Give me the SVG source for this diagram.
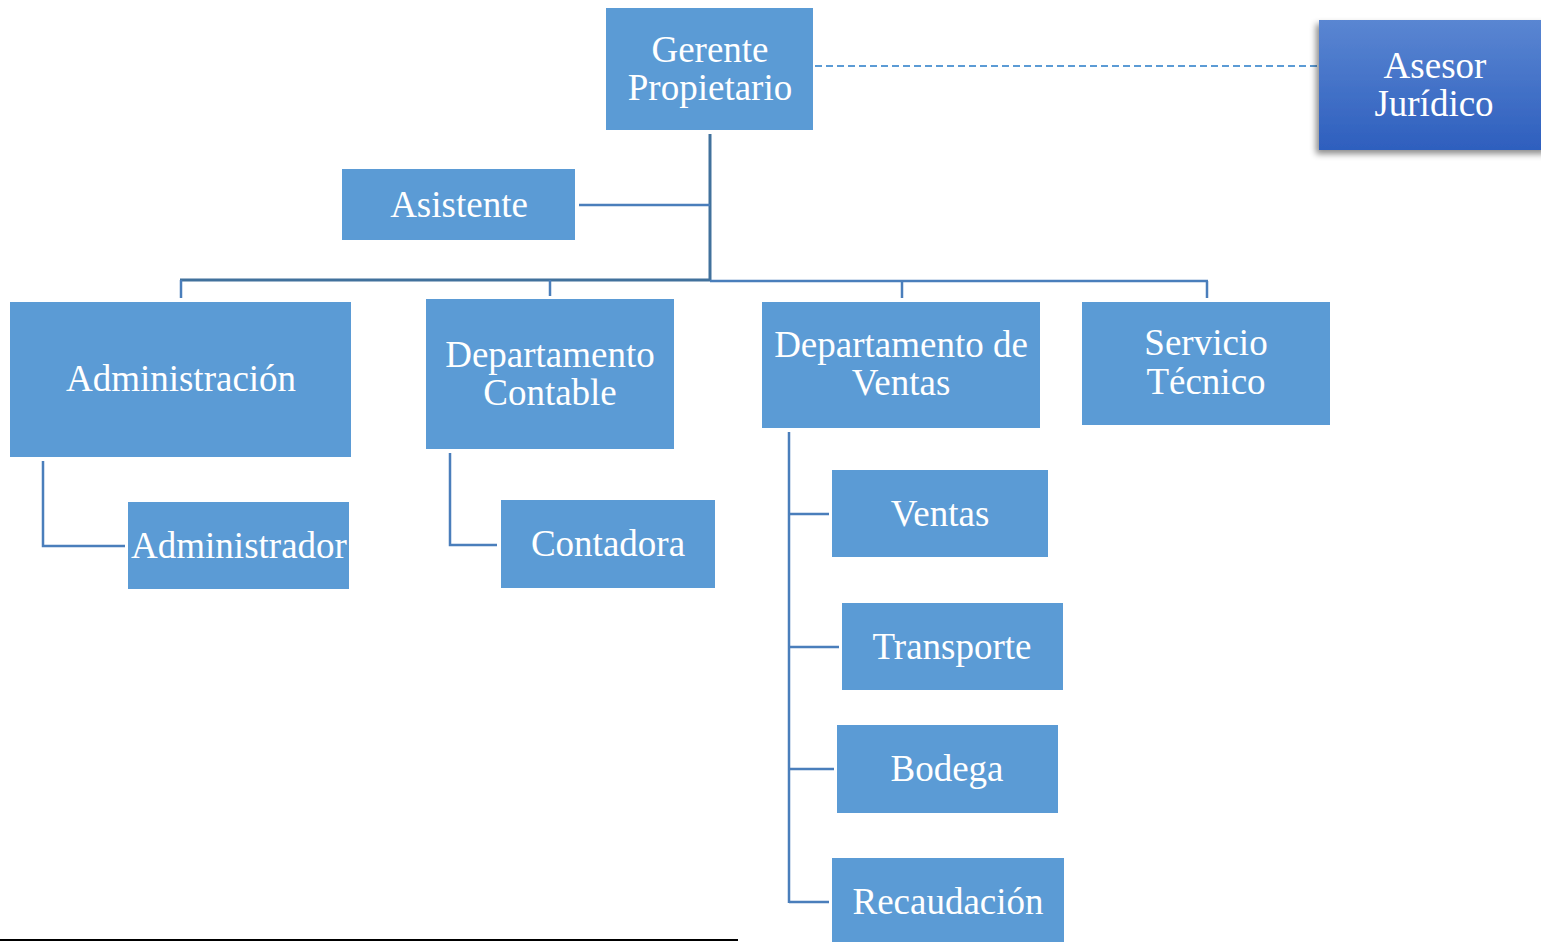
<svg xmlns="http://www.w3.org/2000/svg" width="1541" height="942" viewBox="0 0 1541 942">
  <style>
    .box { fill: #5B9BD5; }
    .lbl { font-family: "Liberation Serif", "Times New Roman", serif; font-size: 37px; fill: #FFFFFF; text-anchor: middle; }
    .trunk { stroke: #41719C; stroke-width: 3; fill: none; }
    .link { stroke: #4A7EBB; stroke-width: 2.5; fill: none; }
    .dash { stroke: #5B9BD5; stroke-width: 2; stroke-dasharray: 7 4; fill: none; }
  </style>
  <defs>
    <linearGradient id="asesorFill" x1="0" y1="0" x2="0" y2="1">
      <stop offset="0" stop-color="#5A86D2"/>
      <stop offset="1" stop-color="#2E5FBE"/>
    </linearGradient>
    <filter id="softShadow" x="-20%" y="-20%" width="140%" height="150%">
      <feDropShadow dx="-3" dy="4" stdDeviation="3" flood-color="#000" flood-opacity="0.45"/>
    </filter>
  </defs>

  <g id="connectors">
    <!-- advisory (staff) link -->
    <line class="dash" x1="815" y1="66" x2="1318" y2="66"/>
    <!-- main trunk from the manager -->
    <line class="trunk" x1="710" y1="134" x2="710" y2="281"/>
    <line class="link" x1="579" y1="205" x2="710" y2="205"/>
    <!-- department bus -->
    <line class="trunk" x1="180" y1="280" x2="710" y2="280"/>
    <line class="link" x1="710" y1="281" x2="1208" y2="281"/>
    <line class="link" x1="181" y1="280" x2="181" y2="298"/>
    <line class="link" x1="550" y1="280" x2="550" y2="296"/>
    <line class="link" x1="902" y1="281" x2="902" y2="298"/>
    <line class="link" x1="1207" y1="281" x2="1207" y2="298"/>
    <!-- Administración -> Administrador -->
    <polyline class="link" points="43,461 43,546 125,546"/>
    <!-- Departamento Contable -> Contadora -->
    <polyline class="link" points="450,453 450,545 497,545"/>
    <!-- Departamento de Ventas -> sub-units -->
    <line class="link" x1="789" y1="432" x2="789" y2="903"/>
    <line class="link" x1="789" y1="514" x2="829" y2="514"/>
    <line class="link" x1="789" y1="647" x2="839" y2="647"/>
    <line class="link" x1="789" y1="769" x2="834" y2="769"/>
    <line class="link" x1="789" y1="902" x2="829" y2="902"/>
  </g>

  <g id="gerente">
    <rect class="box" x="606" y="8" width="207" height="122"/>
    <text class="lbl" x="710" y="62">Gerente</text>
    <text class="lbl" x="710" y="100">Propietario</text>
  </g>

  <g id="asesor">
    <rect x="1319" y="20" width="230" height="130" fill="url(#asesorFill)" filter="url(#softShadow)"/>
    <text class="lbl" x="1435" y="78">Asesor</text>
    <text class="lbl" x="1434" y="116">Jurídico</text>
  </g>

  <g id="asistente">
    <rect class="box" x="342" y="169" width="233" height="71"/>
    <text class="lbl" x="459" y="217">Asistente</text>
  </g>

  <g id="administracion">
    <rect class="box" x="10" y="302" width="341" height="155"/>
    <text class="lbl" x="181" y="391">Administración</text>
  </g>

  <g id="contable">
    <rect class="box" x="426" y="299" width="248" height="150"/>
    <text class="lbl" x="550" y="367">Departamento</text>
    <text class="lbl" x="550" y="405">Contable</text>
  </g>

  <g id="dep-ventas">
    <rect class="box" x="762" y="302" width="278" height="126"/>
    <text class="lbl" x="901" y="357">Departamento de</text>
    <text class="lbl" x="901" y="395">Ventas</text>
  </g>

  <g id="servicio">
    <rect class="box" x="1082" y="302" width="248" height="123"/>
    <text class="lbl" x="1206" y="355">Servicio</text>
    <text class="lbl" x="1206" y="394">Técnico</text>
  </g>

  <g id="administrador">
    <rect class="box" x="128" y="502" width="221" height="87"/>
    <text class="lbl" x="239" y="558">Administrador</text>
  </g>

  <g id="contadora">
    <rect class="box" x="501" y="500" width="214" height="88"/>
    <text class="lbl" x="608" y="556">Contadora</text>
  </g>

  <g id="ventas">
    <rect class="box" x="832" y="470" width="216" height="87"/>
    <text class="lbl" x="940" y="526">Ventas</text>
  </g>

  <g id="transporte">
    <rect class="box" x="842" y="603" width="221" height="87"/>
    <text class="lbl" x="952" y="659">Transporte</text>
  </g>

  <g id="bodega">
    <rect class="box" x="837" y="725" width="221" height="88"/>
    <text class="lbl" x="947" y="781">Bodega</text>
  </g>

  <g id="recaudacion">
    <rect class="box" x="832" y="858" width="232" height="84"/>
    <text class="lbl" x="948" y="914">Recaudación</text>
  </g>

  <!-- rule along the lower edge -->
  <line x1="0" y1="940" x2="738" y2="940" stroke="#000" stroke-width="2"/>
</svg>
